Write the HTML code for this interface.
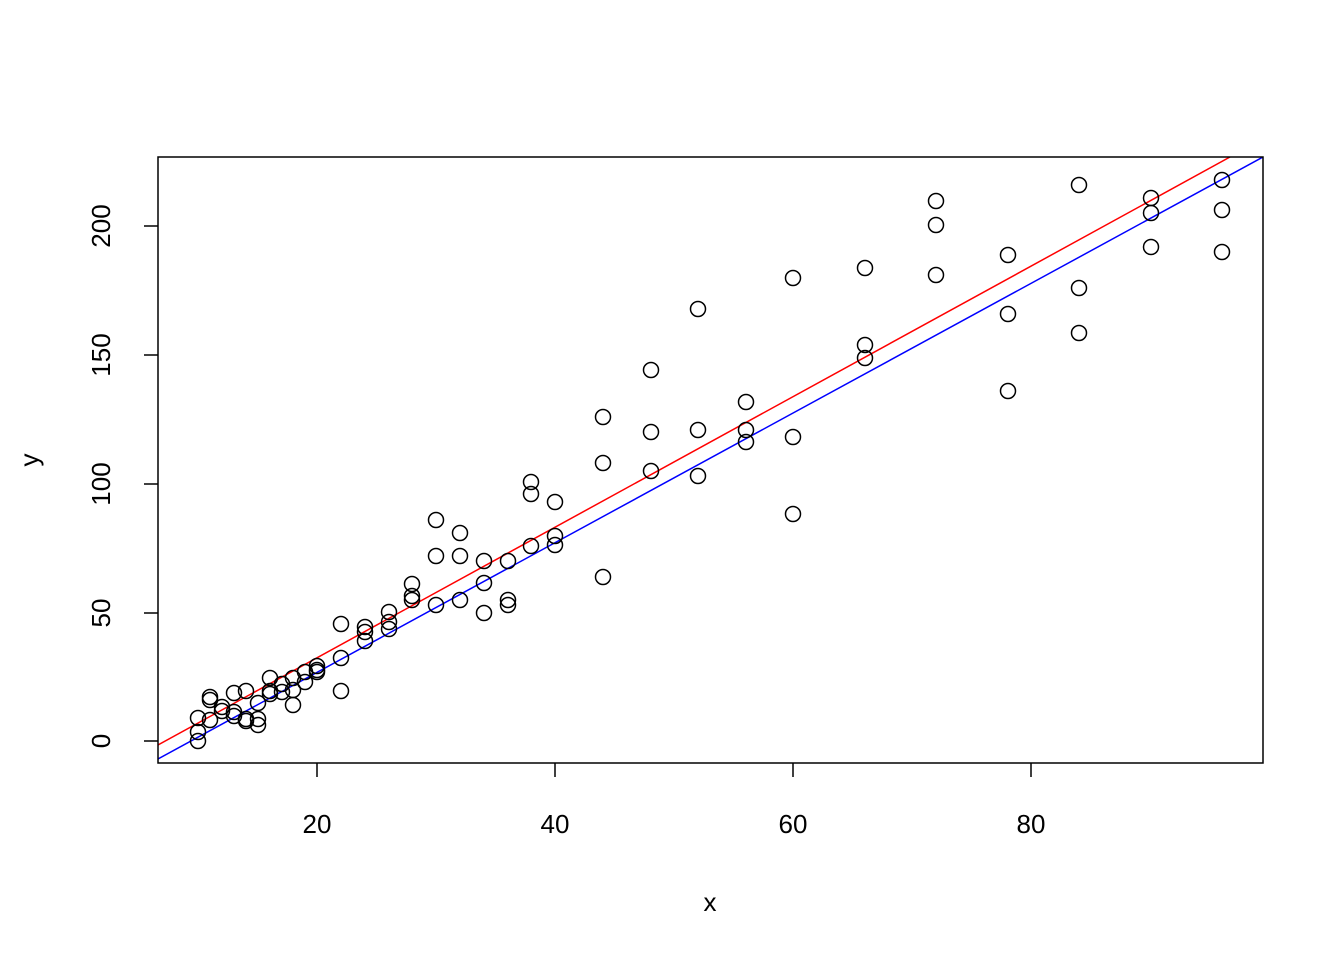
<!DOCTYPE html>
<html><head><style>body{margin:0;background:#fff}svg{display:block}</style></head><body>
<svg width="1344" height="960" xmlns="http://www.w3.org/2000/svg" font-family="Liberation Sans, Arial, sans-serif">
<rect width="1344" height="960" fill="#fff"/>
<defs><clipPath id="c"><rect x="158" y="157" width="1105" height="606"/></clipPath></defs>
<g clip-path="url(#c)">
<line x1="158" y1="745" x2="1230" y2="157" stroke="#f00" stroke-width="1.5"/>
<line x1="158" y1="759" x2="1263" y2="157" stroke="#00f" stroke-width="1.5"/>
</g>
<g fill="none" stroke="#000" stroke-width="1.5">
<circle cx="198" cy="718" r="7.5"/><circle cx="198" cy="732" r="7.5"/><circle cx="198" cy="741" r="7.5"/>
<circle cx="210" cy="697" r="7.5"/><circle cx="210" cy="700" r="7.5"/><circle cx="210" cy="720" r="7.5"/>
<circle cx="222" cy="707" r="7.5"/><circle cx="222" cy="711" r="7.5"/>
<circle cx="234" cy="693" r="7.5"/><circle cx="234" cy="712" r="7.5"/><circle cx="234" cy="716" r="7.5"/>
<circle cx="246" cy="691" r="7.5"/><circle cx="246" cy="719" r="7.5"/><circle cx="246" cy="721" r="7.5"/>
<circle cx="258" cy="703" r="7.5"/><circle cx="258" cy="719" r="7.5"/><circle cx="258" cy="725" r="7.5"/>
<circle cx="270" cy="678" r="7.5"/><circle cx="270" cy="691" r="7.5"/><circle cx="270" cy="694" r="7.5"/>
<circle cx="282" cy="684" r="7.5"/><circle cx="282" cy="692" r="7.5"/>
<circle cx="293" cy="678" r="7.5"/><circle cx="293" cy="690" r="7.5"/><circle cx="293" cy="705" r="7.5"/>
<circle cx="305" cy="672" r="7.5"/><circle cx="305" cy="682" r="7.5"/>
<circle cx="317" cy="666" r="7.5"/><circle cx="317" cy="670" r="7.5"/><circle cx="317" cy="672" r="7.5"/>
<circle cx="341" cy="624" r="7.5"/><circle cx="341" cy="658" r="7.5"/><circle cx="341" cy="691" r="7.5"/>
<circle cx="365" cy="627" r="7.5"/><circle cx="365" cy="632" r="7.5"/><circle cx="365" cy="641" r="7.5"/>
<circle cx="389" cy="612" r="7.5"/><circle cx="389" cy="622" r="7.5"/><circle cx="389" cy="629" r="7.5"/>
<circle cx="412" cy="584" r="7.5"/><circle cx="412" cy="596" r="7.5"/><circle cx="412" cy="600" r="7.5"/>
<circle cx="436" cy="520" r="7.5"/><circle cx="436" cy="556" r="7.5"/><circle cx="436" cy="605" r="7.5"/>
<circle cx="460" cy="533" r="7.5"/><circle cx="460" cy="556" r="7.5"/><circle cx="460" cy="600" r="7.5"/>
<circle cx="484" cy="561" r="7.5"/><circle cx="484" cy="583" r="7.5"/><circle cx="484" cy="613" r="7.5"/>
<circle cx="508" cy="561" r="7.5"/><circle cx="508" cy="600" r="7.5"/><circle cx="508" cy="605" r="7.5"/>
<circle cx="531" cy="482" r="7.5"/><circle cx="531" cy="494" r="7.5"/><circle cx="531" cy="546" r="7.5"/>
<circle cx="555" cy="502" r="7.5"/><circle cx="555" cy="536" r="7.5"/><circle cx="555" cy="545" r="7.5"/>
<circle cx="603" cy="417" r="7.5"/><circle cx="603" cy="463" r="7.5"/><circle cx="603" cy="577" r="7.5"/>
<circle cx="651" cy="370" r="7.5"/><circle cx="651" cy="432" r="7.5"/><circle cx="651" cy="471" r="7.5"/>
<circle cx="698" cy="309" r="7.5"/><circle cx="698" cy="430" r="7.5"/><circle cx="698" cy="476" r="7.5"/>
<circle cx="746" cy="402" r="7.5"/><circle cx="746" cy="430" r="7.5"/><circle cx="746" cy="442" r="7.5"/>
<circle cx="793" cy="278" r="7.5"/><circle cx="793" cy="437" r="7.5"/><circle cx="793" cy="514" r="7.5"/>
<circle cx="865" cy="268" r="7.5"/><circle cx="865" cy="345" r="7.5"/><circle cx="865" cy="358" r="7.5"/>
<circle cx="936" cy="201" r="7.5"/><circle cx="936" cy="225" r="7.5"/><circle cx="936" cy="275" r="7.5"/>
<circle cx="1008" cy="255" r="7.5"/><circle cx="1008" cy="314" r="7.5"/><circle cx="1008" cy="391" r="7.5"/>
<circle cx="1079" cy="185" r="7.5"/><circle cx="1079" cy="288" r="7.5"/><circle cx="1079" cy="333" r="7.5"/>
<circle cx="1151" cy="198" r="7.5"/><circle cx="1151" cy="213" r="7.5"/><circle cx="1151" cy="247" r="7.5"/>
<circle cx="1222" cy="180" r="7.5"/><circle cx="1222" cy="210" r="7.5"/><circle cx="1222" cy="252" r="7.5"/>
</g>
<rect x="158" y="157" width="1105" height="606" fill="none" stroke="#000" stroke-width="1.5"/>
<g stroke="#000" stroke-width="1.5">
<line x1="317" y1="763" x2="317" y2="777"/><line x1="555" y1="763" x2="555" y2="777"/><line x1="793" y1="763" x2="793" y2="777"/><line x1="1031" y1="763" x2="1031" y2="777"/>
<line x1="158" y1="741" x2="144" y2="741"/><line x1="158" y1="613" x2="144" y2="613"/><line x1="158" y1="484" x2="144" y2="484"/><line x1="158" y1="355" x2="144" y2="355"/><line x1="158" y1="226" x2="144" y2="226"/>
</g>
<g font-size="26" text-anchor="middle" fill="#000">
<text x="317" y="833">20</text><text x="555" y="833">40</text><text x="793" y="833">60</text><text x="1031" y="833">80</text>
<text x="710" y="911">x</text>
<text transform="translate(110,741) rotate(-90)">0</text>
<text transform="translate(110,613) rotate(-90)">50</text>
<text transform="translate(110,484) rotate(-90)">100</text>
<text transform="translate(110,355) rotate(-90)">150</text>
<text transform="translate(110,226) rotate(-90)">200</text>
<text transform="translate(38,460) rotate(-90)">y</text>
</g>
</svg>
</body></html>
